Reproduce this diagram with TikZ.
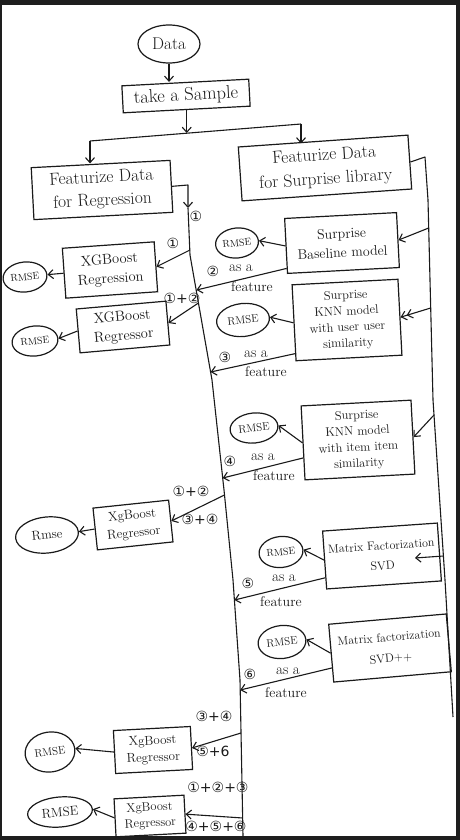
\documentclass[tikz,border=0pt]{standalone}
\usepackage{fontspec}
\newfontfamily\dv{DejaVu Sans}
\usetikzlibrary{arrows.meta,shapes.geometric,calc}
\definecolor{ink}{HTML}{1A1A1A}
\definecolor{edgec}{HTML}{1E1E1E}
\newcommand\fsz[2]{\fontsize{#1}{#2}\selectfont}
\begin{document}
\begin{tikzpicture}[x=1pt,y=-1pt,
  box/.style={draw=ink,line width=1.2pt,align=center,inner sep=1pt,text=ink},
  rm/.style={draw=ink,ellipse,line width=1.2pt,inner sep=0pt,text=ink,font=\fsz{10}{11}},
  arr/.style={draw=ink,line width=1.1pt,-{Straight Barb[length=5pt,width=9pt]}},
  arrd/.style={draw=ink,line width=1.1pt,-{Straight Barb[length=5pt,width=9pt]Straight Barb[length=5pt,width=9pt]}},
  ln/.style={draw=ink,line width=1.1pt,line join=round},
  lab/.style={inner sep=0pt,text=ink,font=\fsz{15}{16}},
  flab/.style={inner sep=0pt,text=ink,font=\fsz{14}{15}},
  num/.style={inner sep=0pt,text=ink,font=\dv\fsz{14}{15}},
]
\fill[edgec] (0,0) rectangle (460,840);
\fill[white] (2,5) rectangle (456,836);
\useasboundingbox (0,0) rectangle (460,840);

% top
\node[draw=ink,ellipse,line width=1.2pt,minimum width=62,minimum height=38,inner sep=0pt,text=ink,font=\fsz{17}{20}] (data) at (169,44) {Data};
\node[box,minimum width=127,minimum height=27,rotate=3,font=\fsz{18.5}{20}] (sample) at (186,96) {take a Sample};
\node[box,minimum width=139,minimum height=52,rotate=3,font=\fsz{17.5}{23}] (freg) at (102,190) {Featurize Data\\for Regression};
\node[box,minimum width=170,minimum height=54,rotate=4,font=\fsz{17.5}{24}] (fsur) at (325,168) {Featurize Data\\for Surprise library};

\coordinate (Bl) at (90,141);
\coordinate (Br) at (301,124);
\coordinate (Bm) at (185,133);
\draw[arr] (data.south) -- (data.south |- sample.north);
\draw[arr] (sample.south) -- (sample.south |- Bm);
\draw[ln] (Bl) -- (Br);
\draw[arr] (Bl) -- (Bl |- freg.north);
\draw[arr] (Br) -- ($(Br |- fsur.north)+(0,3)$);

% left spine
\coordinate (S0) at (188,185);
\coordinate (S1) at (188,208);
\coordinate (S2) at (190,255);
\coordinate (S3) at (212,380);
\coordinate (S4) at (224,490);
\coordinate (S5) at (233,580);
\coordinate (S6) at (240,680);
\coordinate (S7) at (243,836);
\draw[ln,-{Straight Barb[length=5pt,width=9pt]}] (freg.east) -- (S0) -- (S1);
\draw[ln] (S1) -- (S2) -- (S3) -- (S4) -- (S5) -- (S6) -- (S7);
\node[num] (n1) at (196,216) {①};

% right spine
\coordinate (R0) at (425,157);
\coordinate (R1) at (428,200);
\coordinate (R2) at (433,400);
\coordinate (R3) at (445,580);
\coordinate (R4) at (453,717);
\draw[ln] (fsur.east) -- (R0) -- (R1) -- (R2) -- (R3) -- (R4);

% spine junctions
\coordinate (J1) at (190,250);
\coordinate (J2) at (198.4,303);
\coordinate (J3) at (224.5,495);
\coordinate (J4) at (241,733);
\coordinate (J5) at (242.8,818);
\coordinate (F2) at (196.5,290);
\coordinate (F3) at (210.6,372);
\coordinate (F4) at (222.7,478);
\coordinate (F5) at (234.4,600);
\coordinate (F6) at (240.2,690);
\coordinate (RB) at (428.7,228);
\coordinate (RK1) at (430.7,308);
\coordinate (RK2) at (434,415);
\coordinate (RS) at (443.4,556);
\coordinate (RSin) at (415,558);

% surprise models
\node[box,minimum width=112,minimum height=55,rotate=3,font=\fsz{14}{19}] (base) at (342,243) {Surprise\\Baseline model};
\node[rm,minimum width=43,minimum height=30,rotate=6] (rm1) at (237,243) {RMSE};
\node[box,minimum width=106,minimum height=76,rotate=3,font=\fsz{12.5}{16}] (knn1) at (347,320) {Surprise\\KNN model\\with user user\\similarity};
\node[rm,minimum width=53,minimum height=33,rotate=6,font=\fsz{11}{12}] (rm4) at (243,320) {RMSE};
\node[box,minimum width=110,minimum height=74,rotate=3,font=\fsz{12.5}{16}] (knn2) at (358,440) {Surprise\\KNN model\\with item item\\similarity};
\node[rm,minimum width=48,minimum height=30,rotate=6,font=\fsz{11}{12}] (rm5) at (254,428) {RMSE};
\node[box,minimum width=115,minimum height=58,rotate=4,font=\fsz{12}{20}] (svd) at (382,556) {Matrix Factorization\\SVD};
\node[rm,minimum width=44,minimum height=31,rotate=6] (rm7) at (281,552) {RMSE};
\node[box,minimum width=118,minimum height=58,rotate=5,font=\fsz{12}{21}] (svdpp) at (390,648) {Matrix factorization\\SVD++};
\node[rm,minimum width=48,minimum height=33,rotate=6,font=\fsz{11}{12}] (rm8) at (282,642) {RMSE};

\draw[arr] (RB) -- (base.east);
\draw[arrd] (RK1) -- (knn1.east);
\draw[arr] (RK2) -- (knn2.east);
\draw[arr] (RS) -- (RSin);
\draw[arr] (base.west) -- (rm1.east);
\draw[arr] (knn1.west) -- (rm4.east);
\draw[arr] (knn2.west) -- (rm5.east);
\draw[arr] (svd.west) -- (rm7.east);
\draw[arr] (svdpp.west) -- (rm8.east);

\draw[arr] ($(base.south west)!0.1!(base.north west)$) -- (F2);
\draw[arr] ($(knn1.south west)!0.1!(knn1.north west)$) -- (F3);
\draw[arr] ($(knn2.south west)!0.3!(knn2.north west)$) -- (F4);
\draw[arr] ($(svd.south west)!0.2!(svd.north west)$) -- (F5);
\draw[arr] ($(svdpp.south west)!0.25!(svdpp.north west)$) -- (F6);

\node[num] (f2n) at (213,271) {②};
\node[lab] (f2a) at (241,268) {as a};
\node[flab] (f2b) at (252,287) {feature};
\node[num] (f3n) at (225,357) {③};
\node[lab] (f3a) at (256,354) {as a};
\node[flab] (f3b) at (266,372) {feature};
\node[num] (f4n) at (230,461) {④};
\node[lab] (f4a) at (263,457) {as a};
\node[flab] (f4b) at (274,476) {feature};
\node[num] (f5n) at (248,583) {⑤};
\node[lab] (f5a) at (284,578) {as a};
\node[flab] (f5b) at (281,602) {feature};
\node[num] (f6n) at (250,674) {⑥};
\node[lab] (f6a) at (288,671) {as a};
\node[flab] (f6b) at (286,693) {feature};

% regression side
\node[box,minimum width=92,minimum height=50,rotate=4,font=\fsz{14.5}{19}] (xgb1) at (110,270) {XGBoost\\Regression};
\node[rm,minimum width=44,minimum height=30,rotate=6] (rm2) at (25,277) {RMSE};
\node[box,minimum width=90,minimum height=44,rotate=5,font=\fsz{14.5}{19}] (xgb2) at (123,327) {XGBoost\\Regressor};
\node[rm,minimum width=46,minimum height=30,rotate=6] (rm3) at (35,341) {RMSE};
\node[box,minimum width=76,minimum height=42,rotate=6,font=\fsz{13}{18}] (xgb3) at (133,525) {XgBoost\\Regressor};
\node[rm,minimum width=63,minimum height=36,rotate=6,font=\fsz{13}{14}] (rm6) at (47,535) {Rmse};
\node[box,minimum width=77,minimum height=43,rotate=3,font=\fsz{13}{17}] (xgb4) at (153,750) {XgBoost\\Regressor};
\node[rm,minimum width=50,minimum height=40,rotate=8,font=\fsz{11}{12}] (rm9) at (50,752) {RMSE};
\node[box,minimum width=70,minimum height=38,rotate=3,font=\fsz{12.5}{16}] (xgb5) at (150,816) {XgBoost\\Regressor};
\node[rm,minimum width=65,minimum height=30,rotate=5,font=\fsz{13}{14}] (rm10) at (60,812) {RMSE};

\draw[arr] (J1) -- (xgb1.east);
\draw[arr] (J2) -- (xgb2.east);
\draw[arr] (J3) -- (xgb3.east);
\draw[arr] (J4) -- (xgb4.east);
\draw[arr] (J5) -- (xgb5.east);
\draw[arr] (xgb1.west) -- (rm2.east);
\draw[arr] (xgb2.west) -- (rm3.east);
\draw[arr] (xgb3.west) -- (rm6.east);
\draw[arr] (xgb4.west) -- (rm9.east);
\draw[arr] (xgb5.west) -- (rm10.east);

\node[num] (l1) at (173,243) {①};
\node[num] (l12) at (182,298) {①+②};
\node[num] (l3a) at (191,491) {①+②};
\node[num] (l3b) at (200,519) {③+④};
\node[num] (l4a) at (214,716) {③+④};
\node[num] (l4b) at (213,751) {⑤+6};
\node[num] (l5a) at (218,787) {①+②+③};
\node[num] (l5b) at (216,826) {④+⑤+⑥};
\end{tikzpicture}
\end{document}
